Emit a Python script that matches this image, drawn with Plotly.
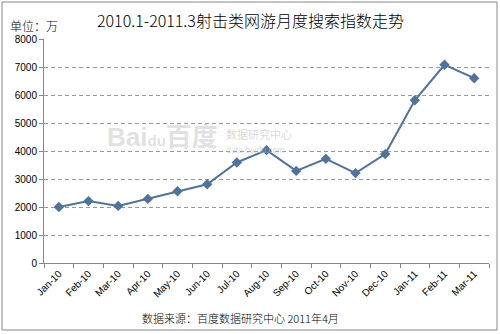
import plotly.graph_objects as go

months = ["Jan-10","Feb-10","Mar-10","Apr-10","May-10","Jun-10","Jul-10","Aug-10",
          "Sep-10","Oct-10","Nov-10","Dec-10","Jan-11","Feb-11","Mar-11"]
values = [2000, 2210, 2040, 2290, 2560, 2810, 3590, 4030, 3290, 3720, 3210, 3890, 5810, 7080, 6600]
y_ticks = [0, 1000, 2000, 3000, 4000, 5000, 6000, 7000, 8000]

W, H = 500, 334
L, R, T, B = 44, 11, 39, 71
pw, ph = W - L - R, H - T - B

fig = go.Figure()
fig.add_trace(go.Scatter(
    x=months, y=values, mode="lines+markers",
    line=dict(color="#4F73A0", width=2),
    marker=dict(symbol="diamond", size=8, color="#4F73A0"),
    showlegend=False))

def px(x):  # pixel -> paper x
    return (x - L) / pw
def py(y):
    return (H - B - y) / ph

fig.update_layout(
    width=W, height=H,
    margin=dict(l=L, r=R, t=T, b=B),
    paper_bgcolor="white", plot_bgcolor="white",
    font=dict(family="Noto Sans CJK SC, sans-serif", color="#000"),
    xaxis=dict(type="category", tickson="boundaries", ticks="outside", ticklen=4,
               tickcolor="#888", showline=True, linecolor="#888", linewidth=1,
               showgrid=False, tickangle=-45, tickfont=dict(size=10, family="Liberation Sans, Arial"),
               range=[-0.5, 14.5]),
    yaxis=dict(range=[0, 8000], tickvals=y_ticks, ticks="outside", ticklen=4,
               tickcolor="#888", showline=True, linecolor="#888", linewidth=1,
               showgrid=True, gridcolor="#999", griddash="4px,3px", gridwidth=1,
               tickfont=dict(size=10, family="Liberation Sans, Arial"), zeroline=False),
    shapes=[dict(type="rect", xref="paper", yref="paper",
                 x0=px(2), x1=px(497), y0=py(330), y1=py(2),
                 line=dict(color="#888", width=1))],
    annotations=[
        dict(text="2010.1-2011.3射击类网游月度搜索指数走势", xref="paper", yref="paper",
             x=px(250), y=py(20), showarrow=False, font=dict(size=16, weight=300), xanchor="center", yanchor="middle"),
        dict(text="单位：万", xref="paper", yref="paper",
             x=px(8), y=py(25), showarrow=False, font=dict(size=12, weight=300), xanchor="left", yanchor="middle"),
        dict(text="数据来源：百度数据研究中心 2011年4月", xref="paper", yref="paper",
             x=px(240), y=py(318), showarrow=False, font=dict(size=11, weight=300), xanchor="center", yanchor="middle"),
        dict(text="Bai<span style='font-size:15px'>du</span>百度", xref="paper", yref="paper",
             x=px(220), y=py(137), showarrow=False,
             font=dict(size=26, weight=700, family="Liberation Sans, Noto Sans CJK SC", color="rgba(200,200,200,0.55)"),
             xanchor="right", yanchor="middle"),
        dict(text="数据研究中心<br><span style='font-size:8px'>data.baidu.com</span>", xref="paper", yref="paper",
             x=px(224), y=py(140), showarrow=False, font=dict(size=11, color="rgba(190,190,190,0.6)"),
             xanchor="left", yanchor="middle", align="left"),
    ],
)

fig.write_html("out.html")
